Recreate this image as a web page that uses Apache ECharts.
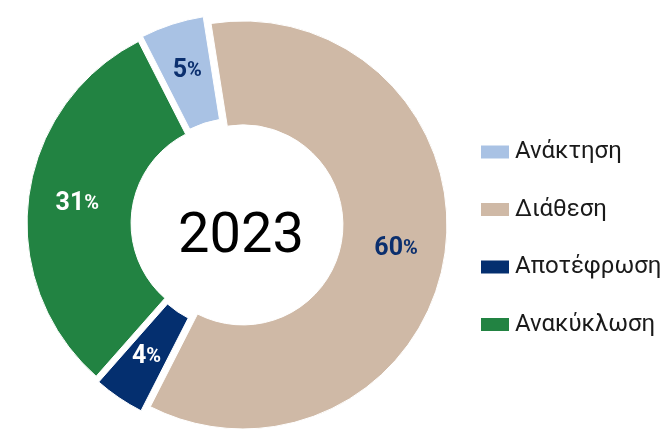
<!DOCTYPE html>
<html>
<head>
<meta charset="utf-8">
<script src="https://cdn.jsdelivr.net/npm/echarts@6/dist/echarts.min.js"></script>
<style>
html,body{margin:0;padding:0;background:#fff;}
#chart{width:665px;height:435px;}
</style>
</head>
<body>
<div id="chart"></div>
<script>
const categories = ['Ανάκτηση', 'Διάθεση', 'Αποτέφρωση', 'Ανακύκλωση'];
const values = [5, 60, 4, 31];
const colors = ['#a9c2e4', '#cfb9a6', '#042f6f', '#228342'];
const labelColors = ['#0b2f6e', '#0b2f6e', '#ffffff', '#ffffff'];
const centerText = '2023';

const chart = echarts.init(document.getElementById('chart'), null, {renderer: 'canvas'});
const data = categories.map((c, i) => ({
  name: c,
  value: values[i],
  selected: true,
  itemStyle: {color: colors[i]},
  label: {
    rich: {
      n: {fontFamily: 'Roboto', fontWeight: 'bold', fontSize: 25, color: labelColors[i]},
      p: {fontFamily: 'Roboto', fontWeight: 'bold', fontSize: 20, color: labelColors[i]}
    }
  }
}));

chart.setOption({
  animation: false,
  legend: {
    orient: 'vertical',
    left: 479,
    top: 140,
    padding: 0,
    itemWidth: 30,
    itemHeight: 15,
    itemGap: 33.5,
    icon: 'rect',
    textStyle: {fontFamily: 'Roboto', fontSize: 24, color: '#1a1a1a', lineHeight: 24},
    data: categories,
    selectedMode: false
  },
  graphic: [{
    type: 'text',
    x: 241,
    y: 238,
    style: {
      text: centerText,
      font: '56px Roboto',
      fill: '#000',
      align: 'center',
      verticalAlign: 'middle',
      textAlign: 'center',
      textVerticalAlign: 'middle'
    }
  }],
  series: [{
    type: 'pie',
    center: [237, 224],
    radius: [100, 204],
    startAngle: 117,
    clockwise: true,
    selectedMode: 'multiple',
    selectedOffset: 6,
    avoidLabelOverlap: false,
    itemStyle: {borderColor: '#fff', borderWidth: 1},
    label: {
      show: true,
      position: 'inside',
      formatter: p => '{n|' + p.value + '}{p|%}'
    },
    labelLine: {show: false},
    emphasis: {disabled: true},
    select: {itemStyle: {borderColor: '#fff', borderWidth: 1}},
    data: data
  }]
});
</script>
</body>
</html>
